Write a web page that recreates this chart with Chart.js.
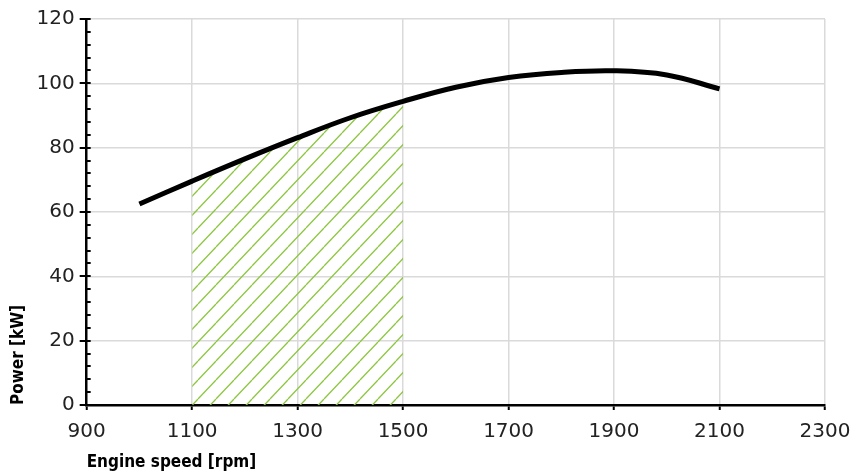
<!DOCTYPE html>
<html>
<head>
<meta charset="utf-8">
<script src="https://cdn.jsdelivr.net/npm/chart.js@4.4.0/dist/chart.umd.min.js"></script>
<style>
  html, body { margin: 0; padding: 0; background: #fff; }
</style>
</head>
<body>
<canvas id="powerChart" width="865" height="474"></canvas>
<script>
// engine curve
const speeds = [1000, 1100, 1200, 1300, 1400, 1500, 1600, 1700, 1800, 1900, 2000, 2100];
const power = [62.5, 69.6, 76.5, 83.1, 89.3, 94.4, 98.8, 101.8, 103.4, 103.9, 102.6, 98.3];
// hatched band
const bandStart = 1100;
const bandEnd = 1500;
// axes
const xMin = 900, xMax = 2300, xStep = 200;
const yMin = 0, yMax = 120, yStep = 20, yMinorStep = 4;

const tickFont = { family: "'DejaVu Sans', sans-serif", size: 20, lineHeight: 1 };
const yTickFont = { family: "'DejaVu Sans', sans-serif", size: 20, lineHeight: 0.7 };
const titleFont = { family: "'Liberation Sans Narrow', 'DejaVu Sans Condensed', sans-serif", size: 17, weight: "bold", lineHeight: 1 };
const yTitleFont = { family: "'Liberation Sans Narrow', 'DejaVu Sans Condensed', sans-serif", size: 17, weight: "bold", lineHeight: 0.5 };

function makeHatch() {
    const w = 18, h = 19;
    const c = document.createElement("canvas");
    c.width = w;
    c.height = h;
    const g = c.getContext("2d");
    g.strokeStyle = "#8cc63f";
    g.lineWidth = 1.3;
    for (let k = -1; k <= 1; k++) {
        g.beginPath();
        g.moveTo(k * w, h);
        g.lineTo((k + 1) * w, 0);
        g.stroke();
    }
    return g.createPattern(c, "repeat");
}

const curvePoints = speeds.map((s, i) => ({ x: s, y: power[i] }));
const bandPoints = curvePoints.filter(p => p.x >= bandStart && p.x <= bandEnd);

// y axis ticks: major cross the axis, minor sit inside
const axisTicks = {
    id: "axisTicks",
    afterDraw(chart) {
        const y = chart.scales.y;
        const ctx = chart.ctx;
        const x0 = chart.chartArea.left;
        ctx.save();
        ctx.strokeStyle = "#000";
        ctx.lineWidth = 2;
        for (let v = yMin; v <= yMax; v += yMinorStep) {
            const py = Math.round(y.getPixelForValue(v));
            const major = v % yStep === 0;
            ctx.beginPath();
            ctx.moveTo(major ? x0 - 7 : x0 - 1, py);
            ctx.lineTo(x0 + 4, py);
            ctx.stroke();
        }
        ctx.restore();
    }
};

new Chart(document.getElementById("powerChart"), {
    type: "line",
    data: {
        datasets: [{
            data: curvePoints,
            borderColor: "#000",
            borderWidth: 5,
            pointRadius: 0,
            tension: 0.4,
            fill: false,
            order: 0
        }, {
            data: bandPoints,
            borderWidth: 0,
            borderColor: "rgba(0,0,0,0)",
            backgroundColor: makeHatch(),
            pointRadius: 0,
            tension: 0.4,
            fill: "origin",
            order: 1
        }]
    },
    options: {
        responsive: false,
        animation: false,
        layout: { padding: { left: 3, right: 40, top: 0, bottom: 3 } },
        plugins: {
            legend: { display: false },
            tooltip: { enabled: false }
        },
        scales: {
            x: {
                type: "linear",
                min: xMin,
                max: xMax,
                ticks: {
                    stepSize: xStep,
                    color: "#222",
                    font: tickFont,
                    padding: 12,
                    maxRotation: 0,
                    callback: v => String(v)
                },
                grid: {
                    color: ctx => ctx.tick && ctx.tick.value === xMin ? "rgba(0,0,0,0)" : "#dadada",
                    lineWidth: 1.5,
                    tickColor: "#000",
                    tickLength: 5,
                    tickWidth: 2
                },
                border: { color: "#000", width: 2.5 },
                title: {
                    display: true,
                    text: "Engine speed [rpm]",
                    align: "start",
                    color: "#000",
                    font: titleFont,
                    padding: { top: 0, bottom: 0 }
                }
            },
            y: {
                min: yMin,
                max: yMax,
                ticks: { stepSize: yStep, color: "#222", font: yTickFont, padding: 12 },
                grid: {
                    color: ctx => ctx.tick && ctx.tick.value === yMin ? "rgba(0,0,0,0)" : "#dadada",
                    lineWidth: 1.5,
                    drawTicks: false
                },
                border: { color: "#000", width: 2.5 },
                title: {
                    display: true,
                    text: "Power [kW]",
                    align: "start",
                    color: "#000",
                    font: yTitleFont,
                    padding: { top: 11, bottom: 2 }
                }
            }
        }
    },
    plugins: [axisTicks]
});
</script>
</body>
</html>
